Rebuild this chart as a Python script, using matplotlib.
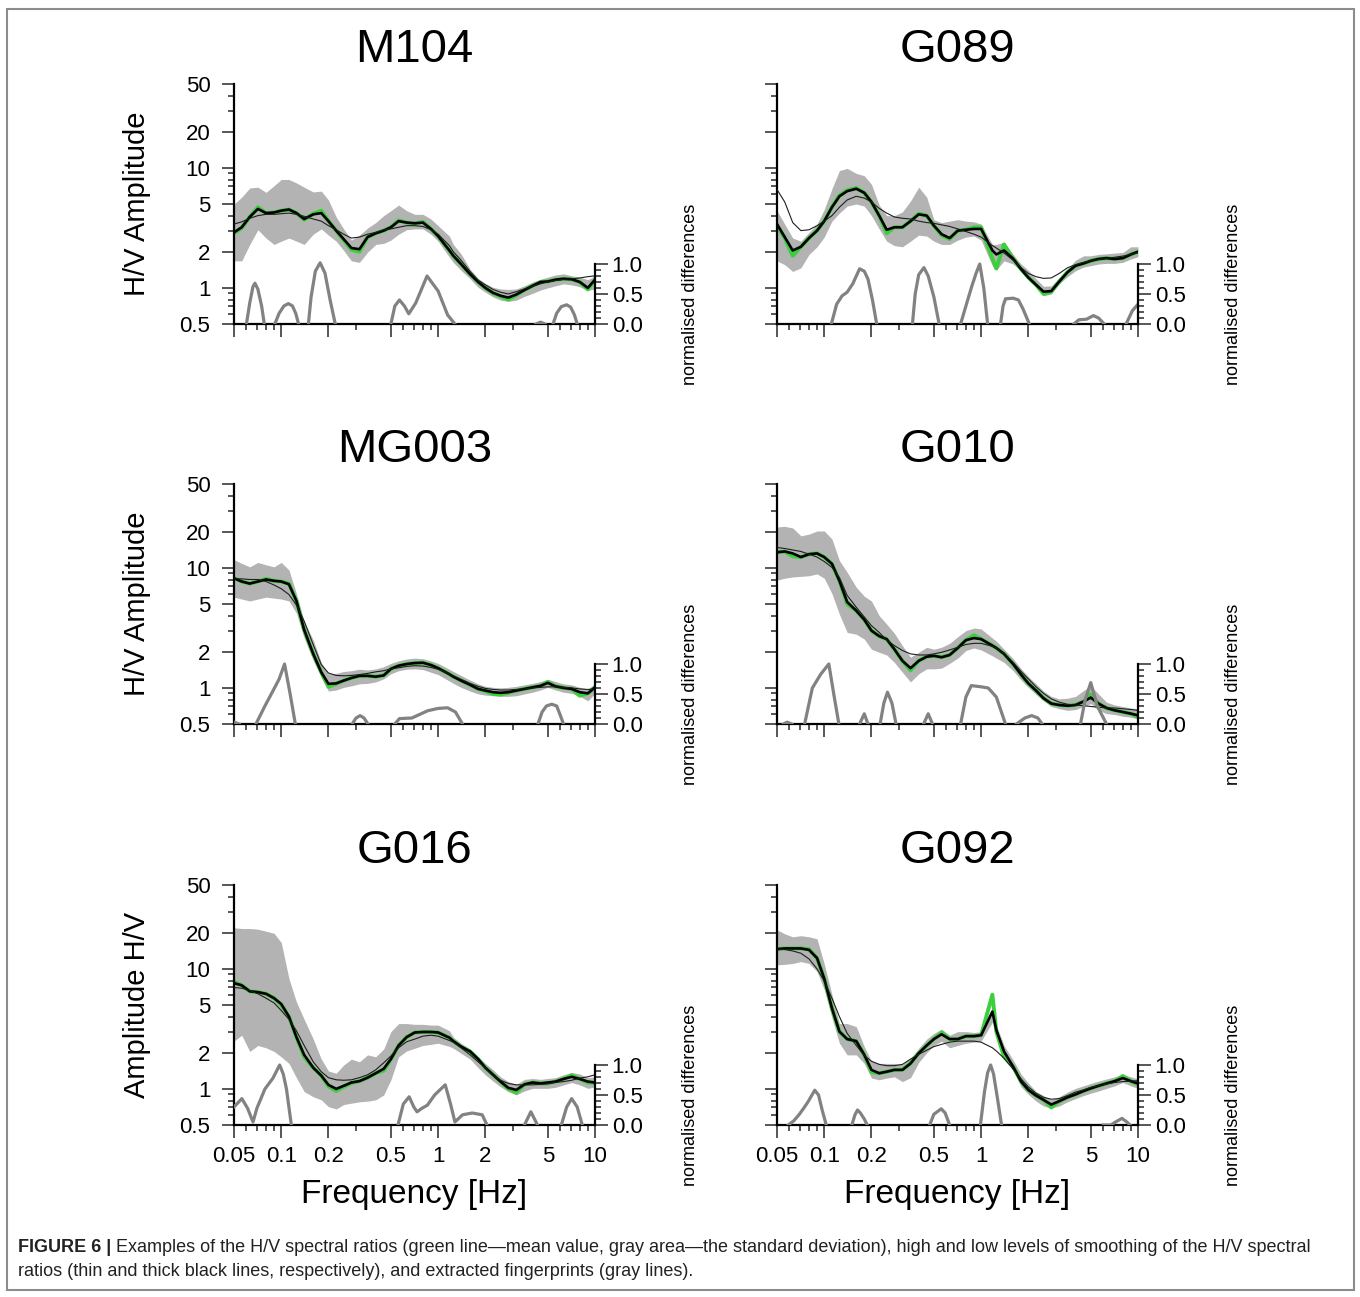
import numpy as np
import matplotlib.pyplot as plt
from matplotlib.ticker import NullFormatter
from matplotlib.patches import Rectangle

plt.rcParams['font.family'] = ['Liberation Sans', 'DejaVu Sans']

# frequency grid shared by all spectral-ratio curves (Hz)
FREQ = [0.05, 0.056, 0.063, 0.071, 0.08, 0.09, 0.1, 0.112, 0.125, 0.14, 0.16, 0.18,
        0.2, 0.224, 0.25, 0.28, 0.315, 0.355, 0.4, 0.45, 0.5, 0.56, 0.63, 0.71,
        0.8, 0.9, 1.0, 1.18, 1.25, 1.4, 1.6, 1.8, 2.0, 2.24, 2.5, 2.8, 3.15, 3.55,
        4.0, 4.5, 5.0, 5.6, 6.3, 7.1, 8.0, 9.0, 10.0]

# --- M104 ---
M104_MEAN = [2.85, 3.15, 3.9, 4.7, 4.2, 4.25, 4.4, 4.5, 4.2, 3.7, 4.15, 4.4, 3.6, 3.0, 2.5, 2.08,
             2.0, 2.65, 2.85, 3.0, 3.2, 3.65, 3.5, 3.45, 3.55, 3.1, 2.7, 2.05, 1.85, 1.58, 1.3,
             1.12, 1.0, 0.9, 0.85, 0.8, 0.87, 0.96, 1.04, 1.12, 1.13, 1.17, 1.19, 1.18, 1.12, 0.97, 1.17]
M104_LOW = [1.68, 1.68, 2.3, 3.05, 2.6, 2.3, 2.45, 2.6, 2.45, 2.3, 2.8, 3.1, 2.75, 2.45, 2.05, 1.68,
            1.63, 1.98, 2.3, 2.35, 2.5, 2.8, 3.05, 3.1, 3.1, 2.8, 2.45, 1.8, 1.63, 1.4, 1.19,
            1.01, 0.92, 0.84, 0.79, 0.77, 0.79, 0.85, 0.9, 0.96, 1.0, 1.04, 1.08, 1.06, 1.02, 0.95, 0.98]
M104_HIGH = [5.0, 5.7, 6.8, 6.9, 6.25, 7.1, 8.0, 8.0, 7.5, 6.9, 6.3, 6.4, 5.4, 3.9, 3.1, 2.5,
             2.75, 3.15, 3.5, 4.0, 4.4, 4.9, 4.4, 4.1, 4.1, 3.75, 3.3, 2.7, 2.3, 1.92, 1.43,
             1.2, 1.09, 1.01, 0.98, 0.97, 0.98, 1.04, 1.12, 1.18, 1.23, 1.28, 1.31, 1.26, 1.23, 1.17, 1.26]
M104_THICK = [2.9, 3.2, 3.9, 4.55, 4.2, 4.25, 4.4, 4.5, 4.2, 3.75, 4.1, 4.2, 3.6, 3.0, 2.55, 2.15,
              2.1, 2.65, 2.85, 3.0, 3.2, 3.6, 3.5, 3.45, 3.5, 3.1, 2.7, 2.05, 1.85, 1.58, 1.3,
              1.12, 1.0, 0.91, 0.86, 0.83, 0.88, 0.96, 1.04, 1.12, 1.13, 1.17, 1.19, 1.18, 1.12, 1.0, 1.17]
M104_THIN = [3.4, 3.55, 3.8, 4.0, 4.1, 4.1, 4.15, 4.2, 4.1, 3.95, 3.75, 3.6, 3.3, 3.05, 2.8, 2.6,
             2.65, 2.8, 2.9, 3.05, 3.1, 3.2, 3.3, 3.3, 3.25, 3.05, 2.8, 2.25, 2.0, 1.7, 1.37,
             1.16, 1.06, 0.97, 0.92, 0.89, 0.93, 0.98, 1.03, 1.08, 1.12, 1.15, 1.18, 1.19, 1.21, 1.24, 1.26]
M104_FP_F = [0.060, 0.063, 0.066, 0.068, 0.071, 0.075, 0.078, 0.085,
             0.091, 0.097, 0.104, 0.111, 0.118, 0.124, 0.129, 0.14,
             0.149, 0.155, 0.165, 0.177, 0.19, 0.205, 0.221, 0.3,
             0.5, 0.53, 0.567, 0.61, 0.65, 0.72, 0.85, 1.0, 1.15, 1.28, 2.0,
             4.2, 4.5, 4.8, 5.0,
             5.4, 5.7, 6.1, 6.6, 7.0, 7.4, 7.7]
M104_FP_V = [0, 0.35, 0.62, 0.68, 0.58, 0.3, 0, None,
             0, 0.18, 0.3, 0.34, 0.3, 0.17, 0, None,
             0, 0.45, 0.88, 1.02, 0.85, 0.4, 0, None,
             0, 0.3, 0.4, 0.3, 0.17, 0.35, 0.8, 0.55, 0.15, 0, None,
             0, 0.03, 0, None,
             0, 0.18, 0.29, 0.32, 0.28, 0.15, 0]

# --- G089 ---
G089_MEAN = [3.3, 2.6, 1.85, 2.2, 2.6, 3.0, 3.6, 4.7, 5.9, 6.5, 6.8, 6.2, 5.2, 4.0, 2.85, 3.2,
             3.2, 3.6, 4.15, 4.0, 3.3, 2.75, 2.55, 3.0, 3.05, 3.2, 3.2, 1.75, 1.45, 2.3, 1.75,
             1.43, 1.22, 1.06, 0.89, 0.93, 1.13, 1.35, 1.53, 1.6, 1.68, 1.74, 1.77, 1.74, 1.77, 1.9, 2.0]
G089_LOW = [1.68, 1.56, 1.37, 1.47, 1.9, 2.2, 2.65, 3.6, 4.2, 4.8, 5.0, 4.8, 4.0, 3.1, 2.45, 2.25,
            2.2, 2.45, 2.75, 2.7, 2.45, 2.3, 2.3, 2.5, 2.65, 2.7, 2.5, 1.53, 1.41, 1.68, 1.58,
            1.37, 1.19, 1.01, 0.86, 0.89, 1.08, 1.24, 1.39, 1.49, 1.53, 1.58, 1.6, 1.6, 1.63, 1.74, 1.82]
G089_HIGH = [4.4, 3.4, 2.6, 2.45, 2.9, 3.4, 4.5, 6.7, 9.5, 9.9, 9.0, 8.6, 7.3, 4.9, 4.0, 4.0,
             4.3, 5.3, 6.9, 5.7, 3.7, 3.5, 3.6, 3.7, 3.6, 3.55, 3.4, 2.3, 2.3, 2.4, 1.9,
             1.58, 1.4, 1.19, 1.03, 1.04, 1.22, 1.44, 1.7, 1.85, 1.85, 1.9, 1.92, 1.95, 1.97, 2.2, 2.2]
G089_THICK = [3.4, 2.65, 2.05, 2.2, 2.6, 3.0, 3.6, 4.7, 5.8, 6.4, 6.7, 6.2, 5.2, 4.0, 3.05, 3.2,
              3.2, 3.6, 4.1, 4.0, 3.3, 2.8, 2.6, 3.0, 3.05, 3.1, 3.1, 2.05, 1.9, 2.05, 1.75,
              1.43, 1.22, 1.06, 0.93, 0.94, 1.13, 1.35, 1.53, 1.6, 1.68, 1.74, 1.77, 1.74, 1.77, 1.9, 2.0]
G089_THIN = [6.6, 5.2, 3.5, 3.0, 3.05, 3.3, 3.6, 4.0, 4.7, 5.4, 5.8, 5.6, 5.2, 4.6, 4.2, 3.9,
             3.8, 3.75, 3.6, 3.5, 3.45, 3.35, 3.25, 3.1, 2.95, 2.8, 2.65, 2.25, 2.15, 1.95, 1.7,
             1.47, 1.32, 1.24, 1.2, 1.21, 1.32, 1.47, 1.56, 1.63, 1.68, 1.73, 1.76, 1.8, 1.84, 1.9, 1.97]
G089_FP_F = [0.111, 0.12, 0.13, 0.14, 0.152, 0.168, 0.18, 0.19, 0.203, 0.216, 0.3,
             0.365, 0.38, 0.4, 0.432, 0.46, 0.5, 0.54, 0.65,
             0.74, 0.8, 0.87, 0.93, 0.98, 1.04, 1.1, 1.2,
             1.33, 1.38, 1.43, 1.6, 1.73, 1.85, 2.03, 3.0,
             3.9, 4.2, 4.7, 5.2, 5.6, 6.1, 7.5,
             8.4, 9.2, 10.0]
G089_FP_V = [0, 0.33, 0.47, 0.53, 0.67, 0.92, 0.88, 0.75, 0.4, 0, None,
             0, 0.5, 0.82, 0.94, 0.8, 0.45, 0, None,
             0, 0.3, 0.62, 0.85, 1.0, 0.6, 0, None,
             0, 0.3, 0.42, 0.43, 0.4, 0.25, 0, None,
             0, 0.07, 0.08, 0.14, 0.1, 0, None,
             0, 0.22, 0.33]

# --- MG003 ---
MG003_MEAN = [8.2, 7.7, 7.4, 7.7, 8.1, 7.8, 7.7, 7.4, 5.3, 3.05, 1.92, 1.35, 1.02, 1.08, 1.15, 1.21,
              1.26, 1.26, 1.24, 1.27, 1.44, 1.53, 1.58, 1.61, 1.62, 1.55, 1.46, 1.3, 1.24, 1.15, 1.06,
              0.98, 0.94, 0.89, 0.88, 0.91, 0.95, 0.98, 1.01, 1.04, 1.12, 1.03, 1.0, 0.98, 0.86, 0.9, 1.01]
MG003_LOW = [5.7, 5.5, 5.3, 5.5, 5.7, 5.6, 5.5, 5.3, 4.2, 2.6, 1.69, 1.23, 0.94, 0.96, 1.01, 1.04,
             1.08, 1.09, 1.12, 1.19, 1.31, 1.39, 1.43, 1.44, 1.42, 1.35, 1.29, 1.14, 1.09, 1.01, 0.94,
             0.89, 0.87, 0.86, 0.85, 0.85, 0.86, 0.89, 0.92, 0.96, 1.01, 0.96, 0.92, 0.9, 0.85, 0.78, 0.9]
MG003_HIGH = [11.7, 10.9, 10.2, 11.1, 10.6, 10.2, 11.1, 9.6, 6.1, 3.6, 2.5, 1.63, 1.31, 1.32, 1.37, 1.39,
              1.43, 1.41, 1.44, 1.5, 1.6, 1.68, 1.74, 1.77, 1.75, 1.68, 1.6, 1.43, 1.37, 1.27, 1.16,
              1.08, 1.03, 1.01, 1.0, 1.01, 1.03, 1.06, 1.09, 1.13, 1.18, 1.13, 1.08, 1.06, 1.01, 0.98, 1.08]
MG003_THICK = [8.2, 7.7, 7.4, 7.7, 8.0, 7.8, 7.7, 7.3, 5.3, 3.05, 1.92, 1.35, 1.08, 1.09, 1.15, 1.21,
               1.26, 1.26, 1.24, 1.27, 1.44, 1.53, 1.58, 1.61, 1.62, 1.55, 1.46, 1.3, 1.24, 1.15, 1.06,
               0.98, 0.95, 0.92, 0.91, 0.92, 0.95, 0.98, 1.01, 1.04, 1.1, 1.03, 1.0, 0.98, 0.92, 0.9, 1.01]
MG003_THIN = [8.1, 8.1, 8.0, 8.0, 7.7, 7.2, 6.7, 6.0, 4.9, 3.6, 2.29, 1.56, 1.33, 1.27, 1.26, 1.27,
              1.29, 1.32, 1.36, 1.39, 1.44, 1.47, 1.51, 1.53, 1.52, 1.48, 1.43, 1.31, 1.26, 1.18, 1.09,
              1.03, 0.99, 0.97, 0.96, 0.96, 0.97, 0.98, 1.0, 1.01, 1.02, 1.02, 1.01, 1.0, 0.98, 0.97, 0.98]
MG003_FP_F = [0.05, 0.054, 0.06,
              0.069, 0.0787, 0.0885, 0.097, 0.105, 0.114, 0.123, 0.2,
              0.283, 0.3, 0.318, 0.337, 0.357, 0.45,
              0.53, 0.567, 0.68, 0.857, 1.0, 1.15, 1.29, 1.43, 3.0,
              4.33, 4.6, 4.9, 5.3, 5.7, 6.0, 6.3]
MG003_FP_V = [0.03, 0, None,
              0, 0.3, 0.55, 0.75, 1.0, 0.5, 0, None,
              0, 0.1, 0.14, 0.1, 0, None,
              0, 0.09, 0.1, 0.22, 0.26, 0.27, 0.2, 0, None,
              0, 0.2, 0.3, 0.33, 0.3, 0.15, 0]

# --- G010 ---
G010_MEAN = [13.5, 13.7, 12.5, 12.3, 13.0, 13.2, 12.3, 10.8, 7.8, 5.0, 4.4, 3.7, 3.0, 2.7, 2.55, 2.1,
             1.68, 1.4, 1.68, 1.82, 1.85, 1.8, 1.88, 2.15, 2.5, 2.75, 2.55, 2.25, 2.15, 1.92, 1.58,
             1.29, 1.09, 0.95, 0.82, 0.74, 0.72, 0.71, 0.72, 0.77, 0.88, 0.74, 0.68, 0.65, 0.63, 0.61, 0.57]
G010_LOW = [7.9, 8.2, 8.4, 8.5, 8.6, 8.9, 8.2, 6.1, 4.1, 2.9, 2.8, 2.55, 2.1, 1.98, 1.88, 1.63,
            1.35, 1.12, 1.31, 1.44, 1.44, 1.46, 1.6, 1.77, 2.05, 2.15, 2.07, 1.85, 1.77, 1.63, 1.39,
            1.16, 1.01, 0.88, 0.78, 0.7, 0.67, 0.65, 0.66, 0.7, 0.74, 0.65, 0.61, 0.6, 0.58, 0.57, 0.55]
G010_HIGH = [21.9, 22.2, 21.5, 18.5, 19.1, 20.3, 20.3, 17.4, 11.5, 9.2, 6.9, 5.8, 5.3, 4.0, 3.4, 2.85,
             2.25, 1.8, 1.98, 2.18, 2.1, 2.18, 2.35, 2.67, 3.0, 3.15, 3.1, 2.6, 2.45, 2.1, 1.75,
             1.44, 1.24, 1.08, 0.94, 0.85, 0.81, 0.82, 0.85, 0.95, 1.04, 0.89, 0.76, 0.72, 0.7, 0.68, 0.67]
G010_THICK = [13.5, 13.7, 13.2, 12.3, 13.0, 13.2, 12.3, 10.8, 7.8, 5.2, 4.4, 3.7, 3.0, 2.7, 2.55, 2.1,
              1.68, 1.46, 1.68, 1.82, 1.85, 1.8, 1.88, 2.15, 2.5, 2.6, 2.55, 2.25, 2.15, 1.92, 1.58,
              1.29, 1.09, 0.95, 0.82, 0.74, 0.72, 0.71, 0.72, 0.77, 0.83, 0.74, 0.68, 0.65, 0.63, 0.61, 0.59]
G010_THIN = [14.8, 14.5, 14.1, 13.7, 13.0, 12.3, 11.3, 10.1, 8.3, 5.9, 4.7, 3.9, 3.3, 2.9, 2.5, 2.25,
             2.05, 1.92, 1.88, 1.88, 1.92, 1.98, 2.07, 2.18, 2.3, 2.35, 2.35, 2.22, 2.15, 1.92, 1.63,
             1.37, 1.19, 1.02, 0.9, 0.81, 0.76, 0.73, 0.72, 0.71, 0.7, 0.69, 0.68, 0.68, 0.67, 0.66, 0.65]
G010_FP_F = [0.055, 0.058, 0.062, 0.07,
             0.075, 0.084, 0.095, 0.107, 0.115, 0.124, 0.15,
             0.168, 0.18, 0.19, 0.21,
             0.227, 0.24, 0.253, 0.27, 0.287, 0.35,
             0.43, 0.46, 0.49, 0.6,
             0.74, 0.8, 0.865, 1.0, 1.11, 1.25, 1.43, 1.55,
             1.68, 1.9, 2.1, 2.3, 2.45, 3.5,
             4.3, 4.6, 5.0, 5.5, 6.3]
G010_FP_V = [0, 0.03, 0, None,
             0, 0.6, 0.83, 1.0, 0.5, 0, None,
             0, 0.17, 0, None,
             0, 0.35, 0.53, 0.35, 0, None,
             0, 0.17, 0, None,
             0, 0.45, 0.64, 0.62, 0.6, 0.45, 0, None,
             0, 0.1, 0.14, 0.1, 0, None,
             0, 0.4, 0.69, 0.3, 0]

# --- G016 ---
G016_MEAN = [7.8, 7.3, 6.5, 6.4, 6.2, 5.7, 5.0, 4.0, 2.7, 1.85, 1.5, 1.29, 1.05, 0.96, 1.04, 1.12,
             1.16, 1.24, 1.35, 1.42, 1.77, 2.3, 2.7, 2.95, 2.98, 2.98, 2.95, 2.67, 2.5, 2.25, 2.05,
             1.77, 1.5, 1.31, 1.15, 1.0, 0.93, 1.09, 1.13, 1.11, 1.11, 1.15, 1.21, 1.3, 1.21, 1.13, 1.12]
G016_LOW = [2.5, 2.8, 2.05, 2.3, 2.2, 2.05, 1.85, 1.63, 1.24, 0.95, 0.86, 0.81, 0.71, 0.68, 0.74, 0.76,
            0.78, 0.79, 0.81, 0.89, 1.19, 1.85, 2.07, 2.18, 2.3, 2.35, 2.4, 2.26, 2.18, 1.98, 1.77,
            1.5, 1.31, 1.16, 1.04, 0.95, 0.89, 0.96, 1.01, 1.01, 1.01, 1.03, 1.08, 1.13, 1.08, 1.01, 1.04]
G016_HIGH = [22.0, 21.7, 21.7, 21.4, 20.6, 19.8, 16.6, 8.3, 5.3, 3.8, 2.6, 1.77, 1.41, 1.35, 1.58, 1.77,
             1.68, 1.92, 1.85, 2.15, 3.0, 3.5, 3.5, 3.45, 3.45, 3.4, 3.4, 3.05, 2.7, 2.4, 2.15,
             1.85, 1.63, 1.44, 1.26, 1.15, 1.09, 1.2, 1.22, 1.2, 1.22, 1.24, 1.31, 1.37, 1.33, 1.24, 1.26]
G016_THICK = [7.6, 7.3, 6.5, 6.4, 6.2, 5.7, 5.1, 4.0, 2.7, 1.92, 1.5, 1.29, 1.08, 1.0, 1.06, 1.13,
              1.16, 1.24, 1.35, 1.47, 1.77, 2.3, 2.7, 2.95, 2.98, 2.98, 2.95, 2.67, 2.5, 2.25, 2.05,
              1.77, 1.5, 1.31, 1.15, 1.02, 0.98, 1.09, 1.13, 1.11, 1.13, 1.15, 1.21, 1.26, 1.21, 1.15, 1.13]
G016_THIN = [7.0, 6.9, 6.6, 6.2, 5.7, 5.2, 4.5, 3.8, 3.05, 2.3, 1.68, 1.39, 1.24, 1.19, 1.18, 1.19,
             1.24, 1.31, 1.44, 1.65, 1.88, 2.2, 2.47, 2.6, 2.75, 2.8, 2.75, 2.53, 2.45, 2.2, 1.92,
             1.68, 1.5, 1.29, 1.18, 1.11, 1.08, 1.08, 1.08, 1.09, 1.1, 1.13, 1.15, 1.18, 1.23, 1.26, 1.31]
G016_FP_F = [0.05, 0.0561, 0.061, 0.0661, 0.07, 0.0787, 0.0885, 0.0977, 0.103, 0.108, 0.116, 0.3,
             0.555, 0.6, 0.654, 0.7, 0.734, 0.79, 0.854, 0.95, 1.11, 1.2, 1.28, 1.43, 1.65, 1.91, 2.05, 3.0,
             3.55, 3.9, 4.3, 5.0,
             6.1, 6.6, 7.1, 7.7, 8.3]
G016_FP_V = [0.3, 0.44, 0.28, 0.05, 0.28, 0.6, 0.78, 1.0, 0.85, 0.6, 0, None,
             0, 0.35, 0.47, 0.3, 0.22, 0.28, 0.33, 0.5, 0.67, 0.35, 0.05, 0.17, 0.2, 0.17, 0, None,
             0, 0.22, 0, None,
             0, 0.3, 0.44, 0.3, 0]

# --- G092 ---
G092_MEAN = [14.6, 14.8, 14.8, 14.8, 14.6, 12.3, 8.3, 4.7, 3.0, 2.6, 2.5, 1.92, 1.38, 1.35, 1.39, 1.44,
             1.44, 1.63, 1.98, 2.3, 2.6, 2.95, 2.6, 2.6, 2.75, 2.75, 2.8, 6.1, 3.0, 1.85, 1.53,
             1.15, 0.98, 0.88, 0.81, 0.7, 0.79, 0.85, 0.9, 0.96, 1.01, 1.06, 1.11, 1.16, 1.28, 1.16, 1.09]
G092_LOW = [10.8, 10.9, 11.1, 11.5, 11.1, 9.5, 6.7, 3.9, 2.4, 1.92, 1.92, 1.63, 1.23, 1.19, 1.23, 1.26,
            1.15, 1.24, 1.66, 2.0, 2.3, 2.5, 2.2, 2.3, 2.4, 2.45, 2.5, 3.6, 2.7, 1.88, 1.41,
            1.04, 0.9, 0.79, 0.72, 0.69, 0.72, 0.78, 0.83, 0.88, 0.92, 0.96, 1.01, 1.06, 1.13, 1.06, 1.01]
G092_HIGH = [21.2, 19.6, 18.5, 18.9, 18.5, 17.8, 11.0, 6.1, 3.5, 3.5, 3.3, 2.25, 1.7, 1.63, 1.63, 1.63,
             1.6, 1.8, 2.18, 2.6, 2.9, 3.15, 2.8, 3.0, 3.0, 2.95, 3.0, 4.8, 3.4, 2.3, 1.74,
             1.32, 1.12, 0.95, 0.88, 0.81, 0.86, 0.94, 1.01, 1.06, 1.11, 1.16, 1.21, 1.26, 1.32, 1.26, 1.21]
G092_THICK = [14.6, 14.8, 14.8, 14.8, 14.4, 12.3, 8.3, 4.7, 3.0, 2.6, 2.5, 1.92, 1.44, 1.35, 1.39, 1.44,
              1.44, 1.63, 1.98, 2.3, 2.6, 2.85, 2.6, 2.6, 2.75, 2.75, 2.8, 4.4, 3.1, 2.05, 1.53,
              1.15, 0.98, 0.88, 0.81, 0.74, 0.79, 0.85, 0.9, 0.96, 1.01, 1.06, 1.11, 1.16, 1.23, 1.16, 1.11]
G092_THIN = [14.6, 14.5, 14.1, 13.5, 12.1, 10.0, 7.9, 5.7, 4.0, 2.9, 2.3, 1.9, 1.7, 1.6, 1.56, 1.56,
             1.6, 1.77, 1.94, 2.1, 2.25, 2.35, 2.45, 2.5, 2.5, 2.5, 2.45, 2.2, 2.07, 1.8, 1.46,
             1.21, 1.04, 0.92, 0.85, 0.82, 0.83, 0.88, 0.94, 0.98, 1.03, 1.06, 1.1, 1.13, 1.15, 1.16, 1.17]
G092_FP_F = [0.059, 0.064, 0.069, 0.074, 0.079, 0.087, 0.092, 0.097, 0.103, 0.12,
             0.15, 0.157, 0.163, 0.17, 0.18, 0.188, 0.3,
             0.47, 0.5, 0.557, 0.59, 0.63, 0.8,
             0.99, 1.05, 1.1, 1.15, 1.2, 1.27, 1.35, 3.0,
             6.0, 6.7, 7.3, 7.9, 8.4, 8.9]
G092_FP_V = [0, 0.07, 0.17, 0.28, 0.39, 0.58, 0.5, 0.25, 0, None,
             0, 0.17, 0.25, 0.2, 0.1, 0, None,
             0, 0.18, 0.27, 0.2, 0, None,
             0, 0.55, 0.87, 1.0, 0.85, 0.45, 0, None,
             0, 0, 0.06, 0.11, 0.06, 0]

PANELS = [
    ('M104', 'H/V Amplitude', M104_MEAN, M104_LOW, M104_HIGH, M104_THICK, M104_THIN, M104_FP_F, M104_FP_V),
    ('G089', None, G089_MEAN, G089_LOW, G089_HIGH, G089_THICK, G089_THIN, G089_FP_F, G089_FP_V),
    ('MG003', 'H/V Amplitude', MG003_MEAN, MG003_LOW, MG003_HIGH, MG003_THICK, MG003_THIN, MG003_FP_F, MG003_FP_V),
    ('G010', None, G010_MEAN, G010_LOW, G010_HIGH, G010_THICK, G010_THIN, G010_FP_F, G010_FP_V),
    ('G016', 'Amplitude H/V', G016_MEAN, G016_LOW, G016_HIGH, G016_THICK, G016_THIN, G016_FP_F, G016_FP_V),
    ('G092', None, G092_MEAN, G092_LOW, G092_HIGH, G092_THICK, G092_THIN, G092_FP_F, G092_FP_V),
]

X_MAJOR = [0.05, 0.1, 0.2, 0.5, 1, 2, 5, 10]
X_LABELS = ['0.05', '0.1', '0.2', '0.5', '1', '2', '5', '10']
X_MINOR = [0.06, 0.07, 0.08, 0.09, 0.3, 0.6, 0.7, 0.8, 0.9, 3, 6, 7, 8, 9]
Y_MAJOR = [0.5, 1, 2, 5, 10, 20, 50]
Y_LABELS = ['0.5', '1', '2', '5', '10', '20', '50']
Y_MINOR = [0.6, 0.7, 0.8, 0.9, 3, 4, 6, 7, 8, 9, 30, 40]
ND_MAJOR = [0.0, 0.5, 1.0]
ND_LABELS = ['0.0', '0.5', '1.0']
ND_MINOR = [0.1, 0.2, 0.3, 0.4, 0.6, 0.7, 0.8, 0.9]

CAPTION_HEAD = 'FIGURE 6 |'
CAPTION_1 = (' Examples of the H/V spectral ratios (green line\u2014mean value, gray area\u2014the standard '
             'deviation), high and low levels of smoothing of the H/V spectral')
CAPTION_2 = 'ratios (thin and thick black lines, respectively), and extracted fingerprints (gray lines).'

W, H = 1360, 1297
fig = plt.figure(figsize=(W / 100, H / 100), dpi=100)
fig.patch.set_facecolor('white')

col_left = [234, 777]
row_top = [84, 484, 885]
ax_w, ax_h = 361, 240
tick_col = '#3a3a3a'

for i, (name, ylab, mean, lo, hi, thick, thin, fp_f, fp_v) in enumerate(PANELS):
    r, c = divmod(i, 2)
    x0, y0 = col_left[c], row_top[r]
    ax = fig.add_axes([x0 / W, 1 - (y0 + ax_h) / H, ax_w / W, ax_h / H])
    ax.set_xscale('log')
    ax.set_yscale('log')

    ax.fill_between(FREQ, lo, hi, color='#b3b3b3', lw=0, zorder=1)
    ax.plot(FREQ, mean, color='#3ccf3c', lw=2.8, zorder=2)
    ax.plot(FREQ, thick, color='black', lw=1.9, zorder=3)
    ax.plot(FREQ, thin, color='#1e1e1e', lw=0.8, zorder=4)

    ax.set_xlim(0.05, 10)
    ax.set_ylim(0.5, 50)
    for s in ('top', 'right'):
        ax.spines[s].set_visible(False)
    for s in ('left', 'bottom'):
        ax.spines[s].set_linewidth(1.6)

    ax.set_xticks(X_MAJOR, labels=X_LABELS)
    ax.set_xticks(X_MINOR, minor=True)
    ax.set_yticks(Y_MAJOR, labels=Y_LABELS)
    ax.set_yticks(Y_MINOR, minor=True)
    ax.xaxis.set_minor_formatter(NullFormatter())
    ax.yaxis.set_minor_formatter(NullFormatter())
    ax.tick_params(which='major', direction='out', length=9, width=1.2, color=tick_col,
                   labelsize=16)
    ax.tick_params(which='minor', direction='out', length=4.5, width=1.2, color=tick_col)
    ax.tick_params(axis='y', which='major', pad=8)
    ax.tick_params(axis='x', which='major', pad=6)
    ax.tick_params(axis='x', labelbottom=(r == 2))
    ax.tick_params(axis='y', labelleft=(c == 0))

    ax.set_title(name, fontsize=34, pad=16)
    if ylab:
        ax.set_ylabel(ylab, fontsize=21, va='center')
        ax.yaxis.set_label_coords(-0.268, 0.5)
    if r == 2:
        ax.set_xlabel('Frequency [Hz]', fontsize=24, va='center')
        ax.xaxis.set_label_coords(0.5, -0.29)

    # fingerprint curves on the normalised-differences scale
    tw = ax.twinx()
    tw.set_ylim(0, 4)
    for s in ('top', 'left', 'bottom'):
        tw.spines[s].set_visible(False)
    tw.spines['right'].set_bounds(0, 1)
    tw.spines['right'].set_linewidth(1.6)
    tw.plot(fp_f, np.array(fp_v, dtype=float), color='#828282', lw=2.3)
    tw.set_yticks(ND_MAJOR, labels=ND_LABELS)
    tw.set_yticks(ND_MINOR, minor=True)
    tw.yaxis.set_minor_formatter(NullFormatter())
    tw.tick_params(which='major', direction='out', length=9, width=1.2, color=tick_col,
                   labelsize=16, pad=3)
    tw.tick_params(which='minor', direction='out', length=4, width=1.2, color=tick_col)
    tw.set_ylabel('normalised differences', fontsize=13, va='center')
    tw.yaxis.set_label_coords(1.265, 0.125)

# caption
cap_y1 = 1 - 1247 / H
cap_y2 = 1 - 1272 / H
head = fig.text(18 / W, cap_y1, CAPTION_HEAD, fontsize=13, fontweight='bold',
                va='center', color='#222222')
fig.canvas.draw()
bb = head.get_window_extent()
fig.text(bb.x1 / W, cap_y1, CAPTION_1, fontsize=13, va='center', color='#222222')
fig.text(18 / W, cap_y2, CAPTION_2, fontsize=13, va='center', color='#222222')

# outer frame
fig.patches.append(Rectangle((7 / W, 1 - 1290 / H), (1354 - 7) / W, (1290 - 9) / H,
                             transform=fig.transFigure, fill=False,
                             edgecolor='#8c8c8c', lw=1.5))

fig.savefig('out.png', dpi=100)
